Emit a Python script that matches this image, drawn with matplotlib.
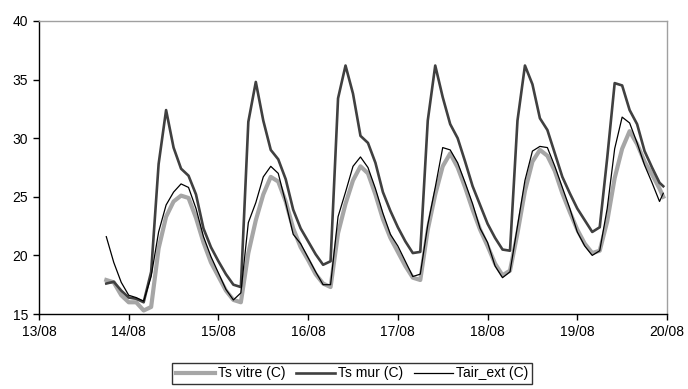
import matplotlib
matplotlib.use("Agg")
import matplotlib.pyplot as plt
import matplotlib.dates as mdates
import pandas as pd

plt.rcParams['font.family'] = ['Liberation Sans', 'DejaVu Sans']

# time stamps: every 2 hours from 13/08 18h to 19/08 22h, plus 19/08 23h
times = list(pd.date_range("2003-08-13 18:00", "2003-08-19 22:00", freq="2h")) + [pd.Timestamp("2003-08-19 23:00")]

ts_mur = [
    17.6, 17.75, 17.0,
    16.4, 16.3, 16.0, 18.6, 27.8, 32.4, 29.2, 27.4, 26.8, 25.2, 22.3, 20.7,
    19.5, 18.4, 17.5, 17.3, 31.4, 34.8, 31.5, 29.0, 28.2, 26.5, 23.9, 22.3,
    21.2, 20.1, 19.2, 19.5, 33.4, 36.2, 33.8, 30.2, 29.6, 27.9, 25.4, 23.8,
    22.4, 21.2, 20.2, 20.3, 31.5, 36.2, 33.5, 31.2, 30.0, 28.0, 25.9, 24.3,
    22.7, 21.5, 20.5, 20.4, 31.5, 36.2, 34.6, 31.7, 30.7, 28.7, 26.7, 25.3,
    24.0, 23.0, 22.0, 22.4, 28.3, 34.7, 34.5, 32.4, 31.2, 28.9, 27.5, 26.2,
    25.9,
]

tair_ext = [
    21.6, 19.4, 17.7,
    16.6, 16.4, 16.1, 18.2, 22.0, 24.3, 25.4, 26.1, 25.8, 24.0, 21.6, 19.9,
    18.5, 17.1, 16.2, 16.8, 22.8, 24.5, 26.7, 27.6, 27.0, 24.5, 21.8, 21.0,
    19.8, 18.6, 17.5, 17.5, 23.3, 25.4, 27.6, 28.4, 27.5, 25.7, 23.6, 21.8,
    20.8, 19.5, 18.2, 18.4, 22.6, 25.8, 29.2, 29.0, 27.9, 26.2, 24.4, 22.3,
    21.1, 19.1, 18.1, 18.6, 22.5, 26.4, 28.9, 29.3, 29.2, 27.6, 25.8, 24.0,
    22.0, 20.8, 20.0, 20.4, 24.0, 29.1, 31.8, 31.3, 29.6, 27.7, 26.2, 24.6,
    25.3,
]

ts_vitre = [
    17.9, 17.7, 16.6,
    16.0, 16.0, 15.3, 15.6, 20.6, 23.3, 24.6, 25.1, 24.9, 23.2, 21.1, 19.4,
    18.2, 17.0, 16.2, 16.0, 20.2, 23.0, 25.2, 26.7, 26.3, 24.6, 22.3, 20.7,
    19.6, 18.4, 17.6, 17.3, 21.9, 24.4, 26.4, 27.6, 27.0, 25.2, 23.1, 21.5,
    20.3, 19.1, 18.1, 17.9, 22.2, 25.2, 27.6, 28.7, 27.5, 25.8, 23.9, 22.2,
    20.8, 19.3, 18.3, 18.7, 21.9, 25.5, 28.0, 29.0, 28.5, 27.2, 25.3, 23.7,
    22.2, 21.0, 20.2, 20.4, 22.9, 26.6, 29.1, 30.6, 29.5, 28.0, 26.9, 25.7,
    25.0,
]

series_labels = ["Ts vitre (C)", "Ts mur (C)", "Tair_ext (C)"]
y_ticks = [15, 20, 25, 30, 35, 40]

fig = plt.figure(figsize=(6.88, 3.89), dpi=100)
ax = fig.add_axes([39/688, 1-314/389, (667-39)/688, (314-21)/389])

ax.plot(times, ts_vitre, color="#a6a6a6", lw=3.0, label=series_labels[0], solid_joinstyle="round")
ax.plot(times, ts_mur, color="#404040", lw=1.9, label=series_labels[1], solid_joinstyle="round")
ax.plot(times, tair_ext, color="black", lw=0.9, label=series_labels[2], solid_joinstyle="round")

ax.set_xlim(pd.Timestamp("2003-08-13"), pd.Timestamp("2003-08-20"))
ax.set_ylim(15, 40)
ax.set_yticks(y_ticks)
ax.xaxis.set_major_locator(mdates.DayLocator())
ax.xaxis.set_major_formatter(mdates.DateFormatter("%d/%m"))

for s in ["top", "right"]:
    ax.spines[s].set_color("#a0a0a0")
    ax.spines[s].set_linewidth(1.0)
for s in ["left", "bottom"]:
    ax.spines[s].set_color("black")
    ax.spines[s].set_linewidth(1.0)

ax.tick_params(axis="both", direction="out", length=4, width=1, labelsize=10, colors="black", pad=4)

leg = fig.legend(loc="upper center", bbox_to_anchor=(352/688, 1-363/389), ncol=3,
                 frameon=True, fancybox=False, edgecolor="black", fontsize=10,
                 handlelength=2.8, handletextpad=0.2, columnspacing=0.8,
                 borderpad=0.25, borderaxespad=0)
leg.get_frame().set_linewidth(1.0)

fig.savefig("out.png", dpi=100)
